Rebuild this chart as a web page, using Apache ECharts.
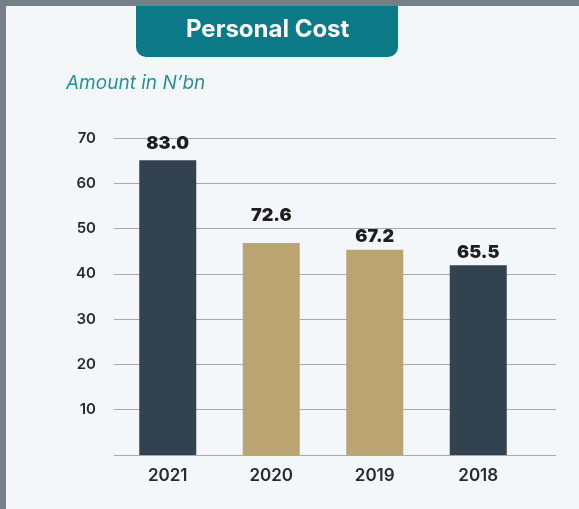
<!DOCTYPE html>
<html>
<head>
<meta charset="utf-8">
<script src="https://cdn.jsdelivr.net/npm/echarts@6/dist/echarts.min.js"></script>
<style>
  html, body { margin: 0; padding: 0; background: #f4f7fa; }
  #chart { width: 579px; height: 509px; }
</style>
</head>
<body>
<div id="chart"></div>
<script>
const years = ['2021', '2020', '2019', '2018'];
// bar heights as drawn against the axis
const barHeights = [65.1, 46.8, 45.3, 41.9];
// value labels printed above the bars
const valueLabels = ['83.0', '72.6', '67.2', '65.5'];
const yTicks = [0, 10, 20, 30, 40, 50, 60, 70];

const darkBar = '#33424f';
const goldBar = '#b9a472';
const barColors = [darkBar, goldBar, goldBar, darkBar];

const chart = echarts.init(document.getElementById('chart'));

const barData = barHeights.map((v, i) => ({
  value: v,
  itemStyle: { color: barColors[i] },
  label: { distance: i === 1 ? 18 : (i === 0 ? 8 : 4) }
}));

chart.setOption({
  backgroundColor: '#f4f7fa',
  animation: false,
  graphic: [
    { type: 'rect', left: 0, top: 0, shape: { width: 579, height: 6 }, style: { fill: '#767f86' } },
    { type: 'rect', left: 0, top: 0, shape: { width: 6, height: 509 }, style: { fill: '#767f86' } },
    {
      type: 'rect', left: 136, top: 6,
      shape: { width: 262, height: 51, r: [0, 0, 10, 10] },
      style: { fill: '#0b7a86' }
    },
    {
      type: 'text', left: 186, top: 18,
      style: {
        text: 'Personal Cost', fill: '#ffffff',
        font: 'bold 24px Inter'
      }
    },
    {
      type: 'text', left: 66, top: 74,
      style: {
        text: 'Amount in N\u2019bn', fill: '#2a8d9a',
        font: 'italic 19px Inter'
      }
    }
  ],
  grid: [
    { left: 114, right: 23, top: 138, bottom: 54 },
    { left: 116, right: 49, top: 138, bottom: 54 }
  ],
  xAxis: [
    { type: 'value', gridIndex: 0, show: false, min: 0, max: 1 },
    {
      type: 'category', gridIndex: 1, data: years,
      axisLine: { show: false }, axisTick: { show: false },
      axisLabel: {
        margin: 12, color: '#2b2b2b',
        fontFamily: 'Inter', fontWeight: 600, fontSize: 17
      }
    }
  ],
  yAxis: [
    {
      type: 'value', gridIndex: 0, min: yTicks[0], max: yTicks[yTicks.length - 1], interval: 10,
      axisLine: { show: false }, axisTick: { show: false },
      splitLine: { lineStyle: { color: '#a9a9ab', width: 1 } },
      axisLabel: {
        margin: 18, color: '#2b2b2b',
        fontFamily: 'Inter', fontWeight: 600, fontSize: 15,
        formatter: v => (v === 0 ? '' : String(v))
      }
    },
    {
      type: 'value', gridIndex: 1, min: yTicks[0], max: yTicks[yTicks.length - 1], interval: 10,
      show: false, splitLine: { show: false }
    }
  ],
  series: [{
    type: 'bar',
    xAxisIndex: 1,
    yAxisIndex: 1,
    barWidth: 57,
    data: barData,
    label: {
      show: true,
      position: 'top',
      color: '#1e1e1e',
      fontFamily: 'Inter',
      fontWeight: 900,
      fontSize: 18,
      formatter: p => valueLabels[p.dataIndex]
    }
  }]
});
</script>
</body>
</html>
